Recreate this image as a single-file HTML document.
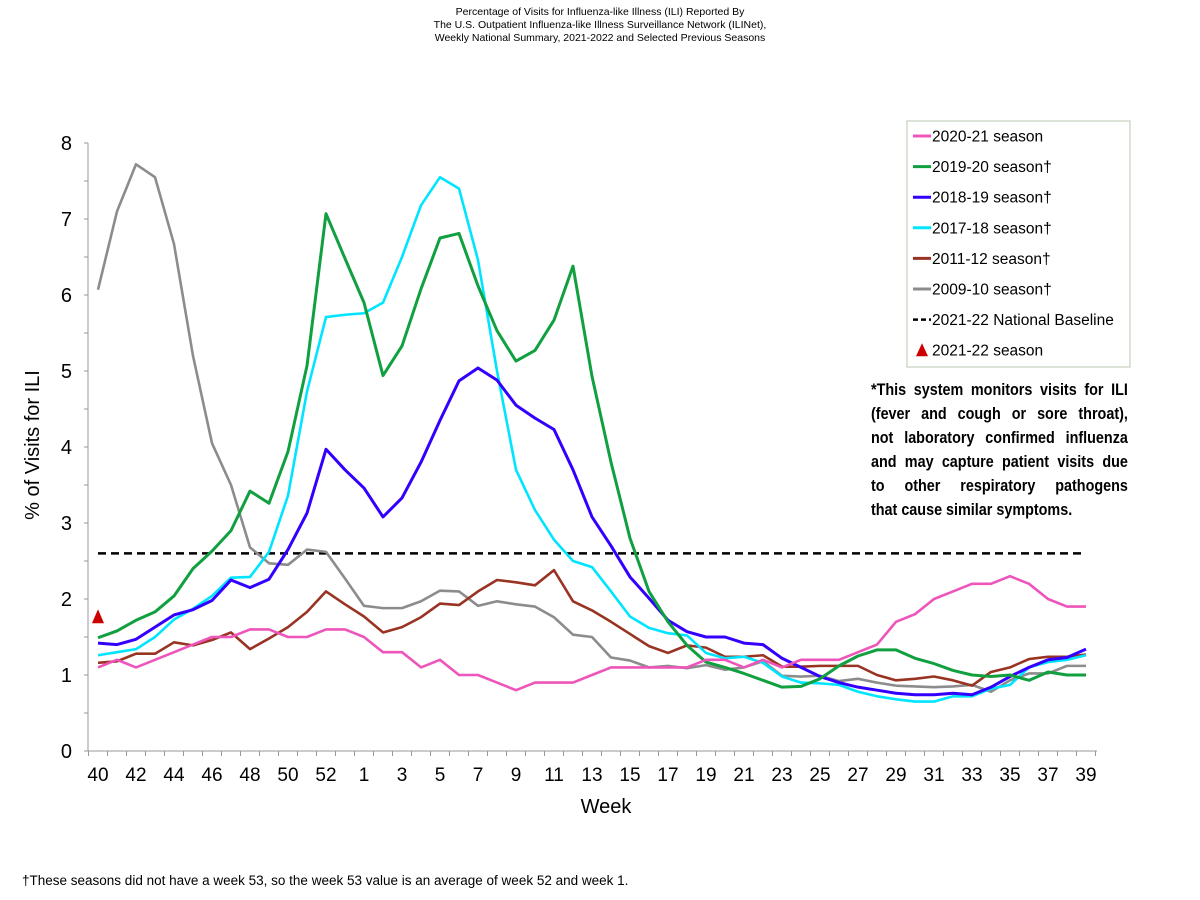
<!DOCTYPE html>
<html><head><meta charset="utf-8"><style>
body{margin:0;background:#fff;font-family:"Liberation Sans",sans-serif}
#wrap{position:relative;width:1200px;height:900px;overflow:hidden}
.title{position:absolute;left:0;width:1200px;top:6px;text-align:center;font-size:10.5px;line-height:13px;color:#000}
.note{position:absolute;left:871px;top:378px;width:304px;font-weight:bold;font-size:17px;line-height:24px;color:#000;transform:scaleX(0.845);transform-origin:0 0}
.note div{text-align:justify;text-align-last:justify;white-space:nowrap}
.note div.last{text-align-last:left}
.foot{position:absolute;left:22px;top:873px;font-size:13.5px}
</style></head><body>
<div id="wrap">
<div class="title">Percentage of Visits for Influenza-like Illness (ILI) Reported By<br>The U.S. Outpatient Influenza-like Illness Surveillance Network (ILINet),<br>Weekly National Summary, 2021-2022 and Selected Previous Seasons</div>
<svg id="svg" width="1200" height="900" style="position:absolute;left:0;top:0"></svg>
<div class="note"><div>*This system monitors visits for ILI</div><div>(fever and cough or sore throat),</div><div>not laboratory confirmed influenza</div><div>and may capture patient visits due</div><div>to other respiratory pathogens</div><div class="last">that cause similar symptoms.</div></div>
<div class="foot">†These seasons did not have a week 53, so the week 53 value is an average of week 52 and week 1.</div>
</div>
<script>
const weeks=[40,41,42,43,44,45,46,47,48,49,50,51,52,53,1,2,3,4,5,6,7,8,9,10,11,12,13,14,15,16,17,18,19,20,21,22,23,24,25,26,27,28,29,30,31,32,33,34,35,36,37,38,39];
const yTicks=[0,1,2,3,4,5,6,7,8];
const s2009=[6.07,7.1,7.72,7.55,6.67,5.2,4.05,3.5,2.68,2.47,2.45,2.65,2.62,2.27,1.91,1.88,1.88,1.97,2.11,2.1,1.91,1.97,1.93,1.9,1.76,1.53,1.5,1.23,1.19,1.1,1.12,1.09,1.13,1.07,1.1,1.18,0.99,0.98,0.99,0.92,0.95,0.9,0.86,0.85,0.84,0.85,0.87,0.78,0.93,1.02,1.02,1.12,1.12];
const s2011=[1.16,1.18,1.28,1.28,1.43,1.39,1.46,1.56,1.34,1.48,1.63,1.83,2.1,1.93,1.77,1.56,1.63,1.76,1.94,1.92,2.1,2.25,2.22,2.18,2.38,1.97,1.85,1.7,1.54,1.38,1.29,1.39,1.36,1.24,1.24,1.26,1.11,1.11,1.12,1.12,1.12,1.0,0.93,0.95,0.98,0.93,0.86,1.04,1.1,1.21,1.24,1.24,1.27];
const s2017=[1.26,1.3,1.34,1.5,1.73,1.87,2.04,2.28,2.29,2.62,3.36,4.73,5.71,5.74,5.76,5.9,6.5,7.18,7.55,7.4,6.46,5.0,3.7,3.17,2.78,2.5,2.42,2.1,1.77,1.62,1.55,1.52,1.29,1.22,1.24,1.16,0.98,0.9,0.89,0.87,0.78,0.72,0.68,0.65,0.65,0.72,0.72,0.82,0.87,1.1,1.17,1.2,1.26];
const s2018=[1.42,1.4,1.47,1.63,1.79,1.86,1.98,2.25,2.15,2.26,2.65,3.13,3.97,3.7,3.46,3.08,3.33,3.8,4.35,4.87,5.04,4.88,4.55,4.38,4.23,3.7,3.08,2.7,2.29,2.01,1.72,1.57,1.5,1.5,1.42,1.4,1.22,1.1,0.98,0.9,0.84,0.8,0.76,0.74,0.74,0.76,0.74,0.84,0.98,1.1,1.2,1.23,1.34];
const s2019=[1.49,1.58,1.72,1.83,2.04,2.4,2.63,2.9,3.42,3.26,3.94,5.07,7.07,6.48,5.9,4.94,5.33,6.08,6.75,6.81,6.12,5.53,5.13,5.27,5.67,6.38,4.93,3.8,2.8,2.1,1.7,1.39,1.17,1.1,1.02,0.93,0.84,0.85,0.95,1.12,1.25,1.33,1.33,1.22,1.15,1.06,1.0,0.98,1.0,0.93,1.04,1.0,1.0];
const s2020=[1.1,1.2,1.1,1.2,1.3,1.4,1.5,1.5,1.6,1.6,1.5,1.5,1.6,1.6,1.5,1.3,1.3,1.1,1.2,1.0,1.0,0.9,0.8,0.9,0.9,0.9,1.0,1.1,1.1,1.1,1.1,1.1,1.2,1.2,1.1,1.2,1.1,1.2,1.2,1.2,1.3,1.4,1.7,1.8,2.0,2.1,2.2,2.2,2.3,2.2,2.0,1.9,1.9];
const s2021=[1.8];
const baseline=[2.6];
const NS='http://www.w3.org/2000/svg';
const svg=document.getElementById('svg');
const X0=98,DX=19,Y0=751,DY=76;
const xs=i=>X0+i*DX, ys=v=>Y0-v*DY;
function mk(t,a){const e=document.createElementNS(NS,t);for(const k in a)e.setAttribute(k,a[k]);svg.appendChild(e);return e;}
let ax=mk('line',{x1:88,y1:143,x2:88,y2:751,stroke:'#999','stroke-width':1});


let bx=mk('line',{x1:88,y1:751,x2:1097,y2:751,stroke:'#999','stroke-width':1});


for(let v=0;v<=8;v+=0.5){mk('line',{x1:84,y1:ys(v),x2:88,y2:ys(v),stroke:'#999'});}
yTicks.forEach(v=>{const t=mk('text',{x:72,y:ys(v)+7,'text-anchor':'end','font-size':20,fill:'#000'});t.textContent=v;

});
for(let i=0;i<=weeks.length;i++){mk('line',{x1:xs(i)-9.5,y1:751,x2:xs(i)-9.5,y2:756,stroke:'#999'});}
weeks.forEach((w,i)=>{if(i%2==0){const t=mk('text',{x:xs(i),y:781,'text-anchor':'middle','font-size':19,fill:'#000'});t.textContent=w;

}});
let xt=mk('text',{x:606,y:813,'text-anchor':'middle','font-size':20});xt.textContent='Week';


let yt=mk('text',{x:0,y:0,'text-anchor':'middle','font-size':20,transform:'translate(39,445) rotate(-90)'});yt.textContent='% of Visits for ILI';


let bl=mk('line',{x1:xs(0),y1:ys(baseline[0]),x2:xs(52),y2:ys(baseline[0]),stroke:'#000','stroke-width':2.5,'stroke-dasharray':'8,5'});


const series=[[s2009,'#8c8c8c','series-2009-10'],[s2011,'#993322','series-2011-12'],[s2017,'#00e5ff','series-2017-18'],[s2018,'#3300ff','series-2018-19'],[s2019,'#11a040','series-2019-20'],[s2020,'#ee55bb','series-2020-21']];
series.forEach(([d,c,n])=>{const p=mk('polyline',{points:d.map((v,i)=>xs(i)+','+ys(v)).join(' '),fill:'none',stroke:c,'stroke-width':(n=='series-2018-19'||n=='series-2019-20')?3:2.6,'stroke-linejoin':'round'});

});
s2021.forEach((v,i)=>{const x=xs(i),y=ys(v);const p=mk('polygon',{points:`${x-6},${y+9} ${x+6},${y+9} ${x},${y-5}`,fill:'#cc0000'});

});
let lg=mk('rect',{x:907,y:121,width:223,height:246,fill:'#fff',stroke:'#b8c8b0','stroke-width':1});


const legItems=[['2020-21 season','#ee55bb','line'],['2019-20 season†','#11a040','line'],['2018-19 season†','#3300ff','line'],['2017-18 season†','#00e5ff','line'],['2011-12 season†','#993322','line'],['2009-10 season†','#8c8c8c','line'],['2021-22 National Baseline','#000','dash'],['2021-22 season','#cc0000','tri']];
legItems.forEach(([l,c,k],i)=>{const y=136+i*30.6;
if(k=='line')mk('line',{x1:913,y1:y,x2:931,y2:y,stroke:c,'stroke-width':3});
else if(k=='dash')mk('line',{x1:913,y1:y,x2:931,y2:y,stroke:c,'stroke-width':2.5,'stroke-dasharray':'5,3'});
else mk('polygon',{points:`${916},${y+6} ${928},${y+6} ${922},${y-7}`,fill:c});
const t=mk('text',{x:932,y:y+5.5,'font-size':15.5,fill:'#000'});t.textContent=l;

});
</script>
</body></html>
